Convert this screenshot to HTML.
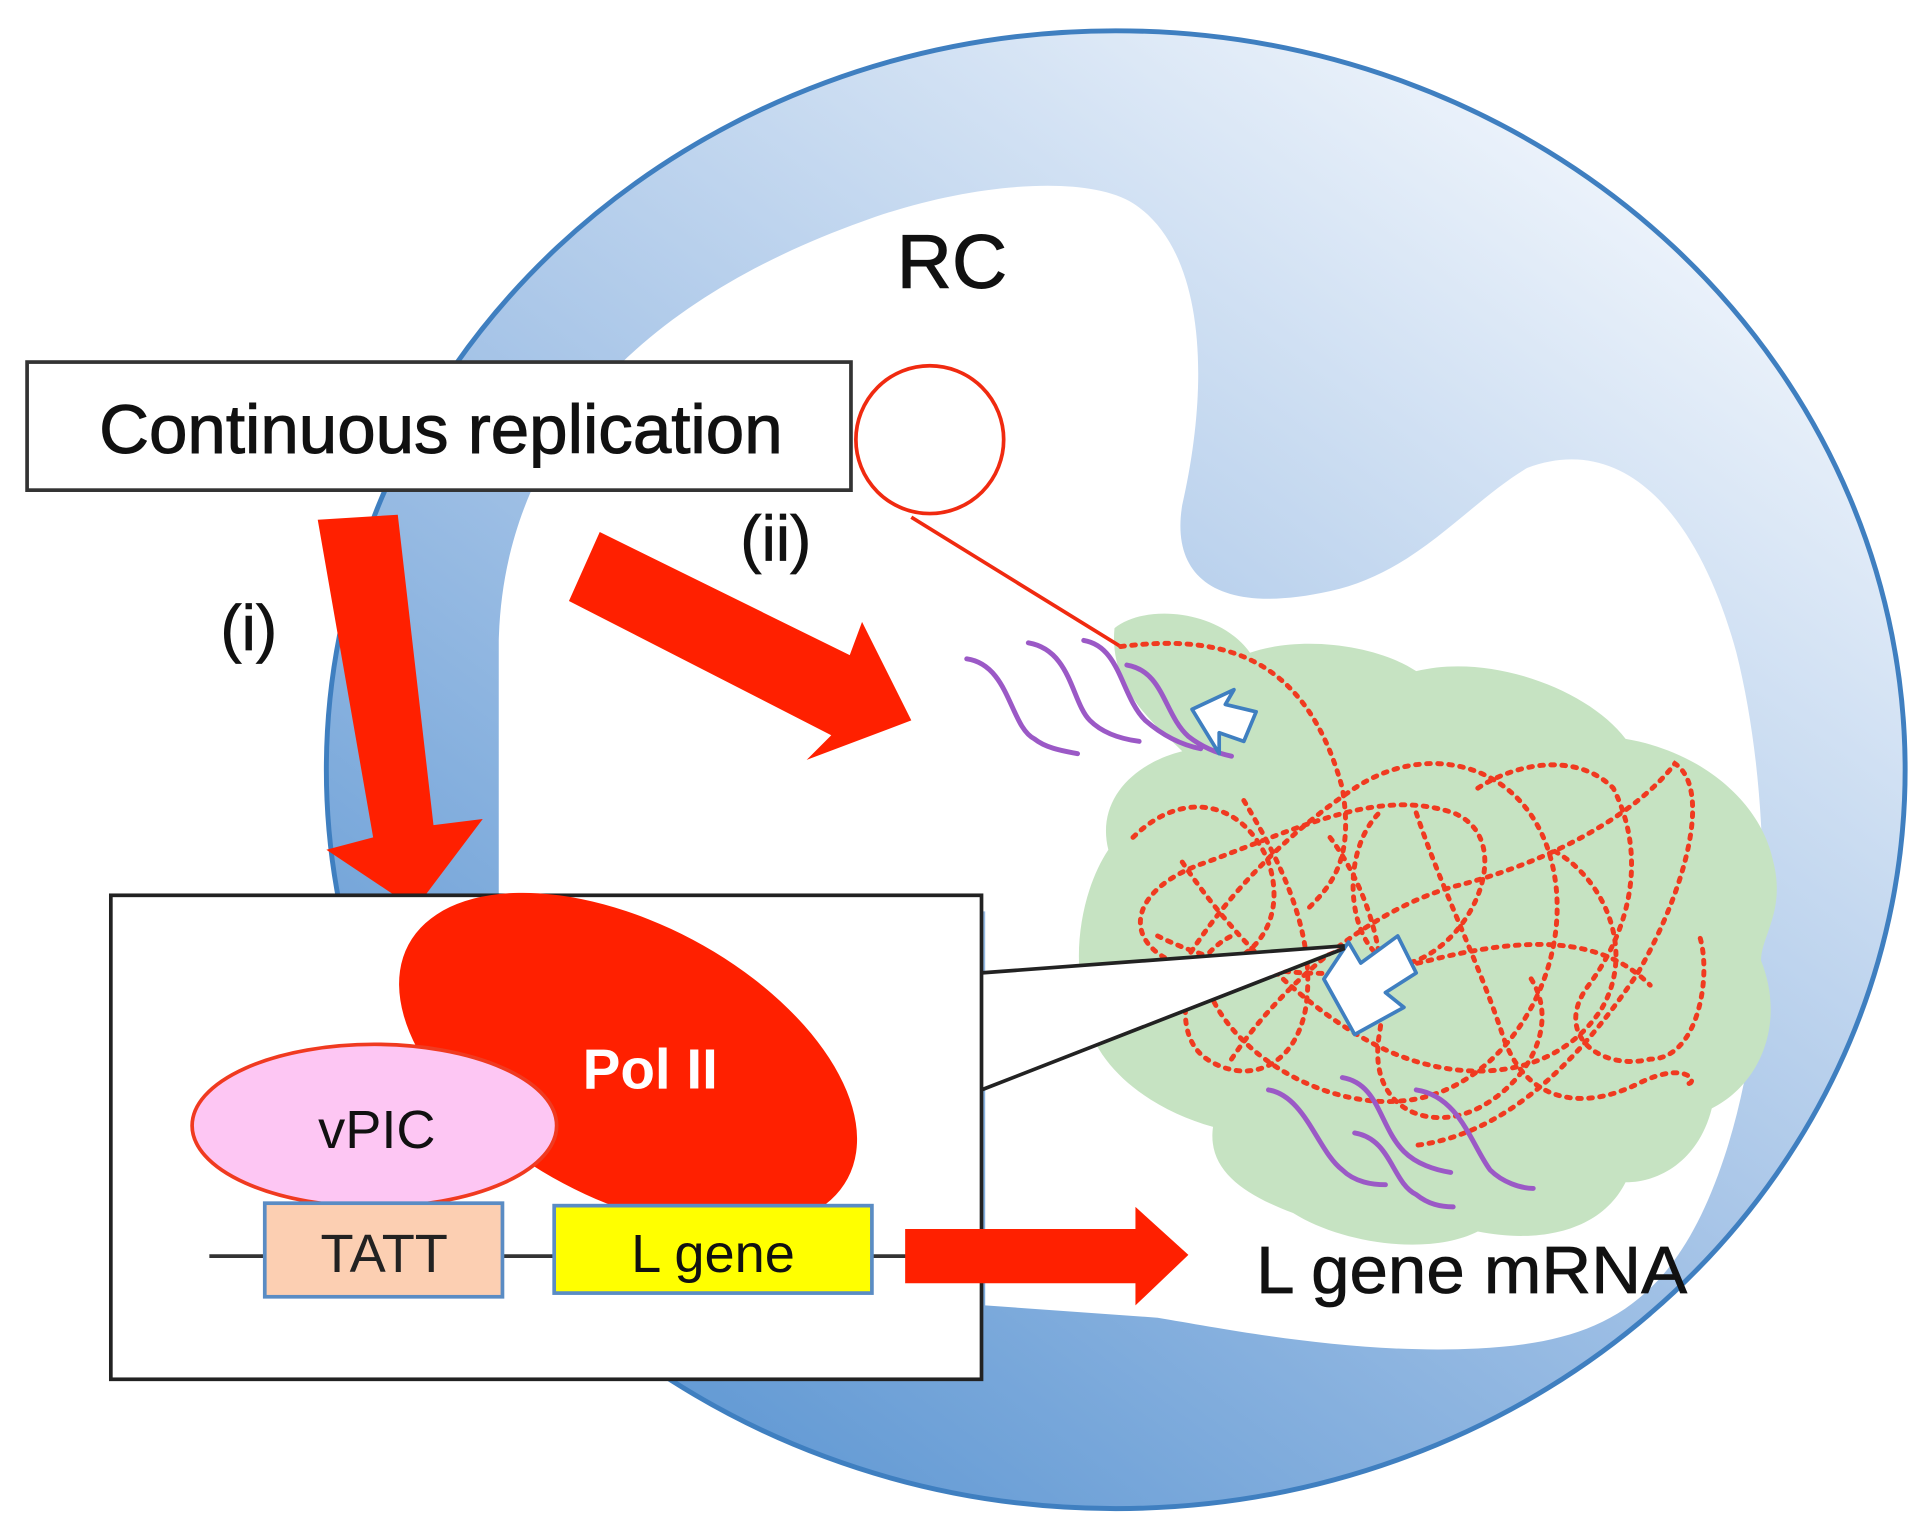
<!DOCTYPE html>
<html><head><meta charset="utf-8"><style>
html,body{margin:0;padding:0;background:#fff;width:1931px;height:1532px;overflow:hidden}
svg{display:block}
text{font-family:"Liberation Sans",Arial,sans-serif}
</style></head><body>
<svg width="1931" height="1532" viewBox="0 0 1568 1244" preserveAspectRatio="none" xmlns="http://www.w3.org/2000/svg">
<defs>
<linearGradient id="bg" x1="0.15" y1="0.95" x2="0.85" y2="0.05">
<stop offset="0" stop-color="#5b95d2"/>
<stop offset="0.5" stop-color="#a9c6e8"/>
<stop offset="1" stop-color="#f4f8fd"/>
</linearGradient>
</defs>
<rect width="1568" height="1244" fill="#fff"/>
<ellipse cx="906" cy="625" rx="641" ry="600" fill="url(#bg)" stroke="#3f7fc0" stroke-width="4"/>
<path d="M405,520 C410,330 560,230 700,180 C780,150 880,140 920,165 C975,200 985,300 960,410 C950,470 990,500 1080,480 C1150,465 1190,410 1240,380 C1320,350 1380,420 1410,530 C1440,650 1440,820 1400,940 C1360,1060 1300,1090 1200,1095 C1100,1100 1000,1080 940,1070 L800,1060 L800,740 L405,740 Z" fill="#fff"/>
<path d="M905,510 C930,490 990,495 1015,530 C1060,515 1120,525 1150,545 C1210,530 1290,560 1320,600 C1380,610 1430,650 1440,700 C1450,740 1430,760 1430,780 C1450,830 1430,880 1390,900 C1380,940 1350,960 1320,960 C1300,1000 1250,1010 1200,1000 C1160,1020 1090,1010 1050,985 C1010,970 980,950 985,915 C930,900 880,860 880,810 C870,770 880,720 900,690 C890,650 920,620 960,610 C940,590 900,560 905,510 Z" fill="#c6e3c2"/>
<circle cx="755" cy="357" r="60" fill="none" stroke="#f02a10" stroke-width="3"/>
<line x1="740" y1="420" x2="910" y2="525" stroke="#f02a10" stroke-width="3"/>
<text x="773" y="234" font-size="62" text-anchor="middle" fill="#111" stroke="#111" stroke-width="0.8">RC</text>
<g fill="none" stroke="#f03a20" stroke-width="4" stroke-dasharray="3 6" stroke-linecap="round">
<path d="M910,525 C990,515 1060,530 1090,640 C1100,700 1080,720 1060,740"/>
<path d="M920,680 C960,640 1010,650 1030,700 C1050,760 1000,800 950,780 C910,760 920,720 980,700 C1060,670 1120,640 1180,660 C1230,680 1200,760 1150,780 C1100,800 1080,700 1120,660"/>
<path d="M940,820 C980,740 1040,680 1100,640 C1160,600 1240,620 1260,700 C1280,780 1230,870 1160,890 C1090,910 1000,860 980,800"/>
<path d="M1000,860 C1040,800 1110,740 1180,720 C1260,700 1330,660 1360,620 C1390,640 1370,720 1330,790 C1290,850 1230,920 1150,930"/>
<path d="M1200,640 C1230,620 1280,610 1310,640 C1340,700 1320,760 1290,800 C1260,840 1300,870 1340,860 C1380,860 1390,790 1380,760"/>
<path d="M960,700 C1000,760 1060,820 1120,850 C1180,880 1260,880 1300,820 C1330,770 1300,710 1260,690"/>
<path d="M1080,680 C1110,720 1130,780 1120,840 C1110,900 1160,920 1200,900 C1240,880 1270,830 1240,790"/>
<path d="M1010,650 C1040,700 1070,760 1060,820 C1050,870 1010,880 980,860 C950,840 960,780 1000,760"/>
<path d="M1150,660 C1170,720 1200,780 1220,840 C1240,900 1290,900 1330,880 C1370,860 1380,880 1370,880"/>
<path d="M940,760 C1000,790 1080,800 1160,780 C1240,760 1300,760 1340,800"/>
</g>
<g fill="none" stroke="#9b59c6" stroke-width="4" stroke-linecap="round">
<path d="M785,535 C820,540 820,590 840,600 C850,608 865,610 875,612"/>
<path d="M835,522 C870,528 870,570 885,585 C895,595 910,600 925,602"/>
<path d="M880,520 C910,525 910,565 930,585 C945,598 960,605 975,608"/>
<path d="M915,540 C945,545 945,580 965,598 C978,608 990,612 1000,614"/>
<path d="M1030,885 C1060,890 1070,935 1090,950 C1100,960 1115,962 1125,962"/>
<path d="M1090,875 C1120,880 1120,915 1140,935 C1150,945 1165,950 1178,952"/>
<path d="M1100,920 C1130,925 1130,960 1150,970 C1160,978 1170,980 1180,980"/>
<path d="M1150,885 C1185,890 1195,930 1210,950 C1220,960 1235,965 1245,965"/>
</g>
<path d="M968,576 L1002,560 L995,572 L1020,578 L1010,602 L990,595 L990,612 Z" fill="#fff" stroke="#3f7fc0" stroke-width="3" stroke-linejoin="round"/>
<path d="M1075,795 L1095,765 L1105,782 L1135,760 L1150,790 L1125,806 L1140,818 L1100,840 Z" fill="#fff" stroke="#3f7fc0" stroke-width="3" stroke-linejoin="round"/>
<rect x="22" y="294" width="669" height="104" fill="#fff" stroke="#333" stroke-width="3"/>
<text x="358" y="368" font-size="56" text-anchor="middle" fill="#111" stroke="#111" stroke-width="0.8" textLength="555" lengthAdjust="spacingAndGlyphs">Continuous replication</text>
<text x="630" y="455" font-size="52" text-anchor="middle" fill="#111" stroke="#111" stroke-width="0.6">(ii)</text>
<text x="202" y="528" font-size="52" text-anchor="middle" fill="#111" stroke="#111" stroke-width="0.6">(i)</text>
<polygon points="258,422 323,418 352,670 392,665 337,738 265,690 303,680" fill="#ff2000"/>
<polygon points="487,432 462,488 675,597 655,617 740,585 700,505 690,532" fill="#ff2000"/>
<polygon points="797,790 1092,768 797,885" fill="#fff"/>
<line x1="797" y1="790" x2="1092" y2="768" stroke="#222" stroke-width="3"/>
<line x1="797" y1="885" x2="1092" y2="770" stroke="#222" stroke-width="3"/>
<rect x="90" y="727" width="707" height="393" fill="#fff" stroke="#222" stroke-width="3"/>
<line x1="170" y1="1020" x2="740" y2="1020" stroke="#333" stroke-width="3"/>
<ellipse cx="510" cy="862" rx="202" ry="112" transform="rotate(28 510 862)" fill="#ff2000"/>
<text x="528" y="884" font-size="46" font-weight="bold" text-anchor="middle" fill="#fff">Pol II</text>
<ellipse cx="304" cy="914" rx="148" ry="66" fill="#fdc6f3" stroke="#f03a20" stroke-width="3"/>
<text x="306" y="932" font-size="44" text-anchor="middle" fill="#111">vPIC</text>
<rect x="215" y="977" width="193" height="76" fill="#fccfb2" stroke="#5a8cc4" stroke-width="3"/>
<text x="312" y="1033" font-size="44" text-anchor="middle" fill="#222">TATT</text>
<rect x="450" y="979" width="258" height="71" fill="#ffff00" stroke="#5a8cc4" stroke-width="3"/>
<text x="579" y="1033" font-size="44" text-anchor="middle" fill="#111">L gene</text>
<polygon points="735,998 922,998 922,980 965,1019 922,1060 922,1042 735,1042" fill="#ff2000"/>
<text x="1195" y="1050" font-size="54" text-anchor="middle" fill="#111" stroke="#111" stroke-width="0.6" textLength="350" lengthAdjust="spacingAndGlyphs">L gene mRNA</text>
</svg>
</body></html>
